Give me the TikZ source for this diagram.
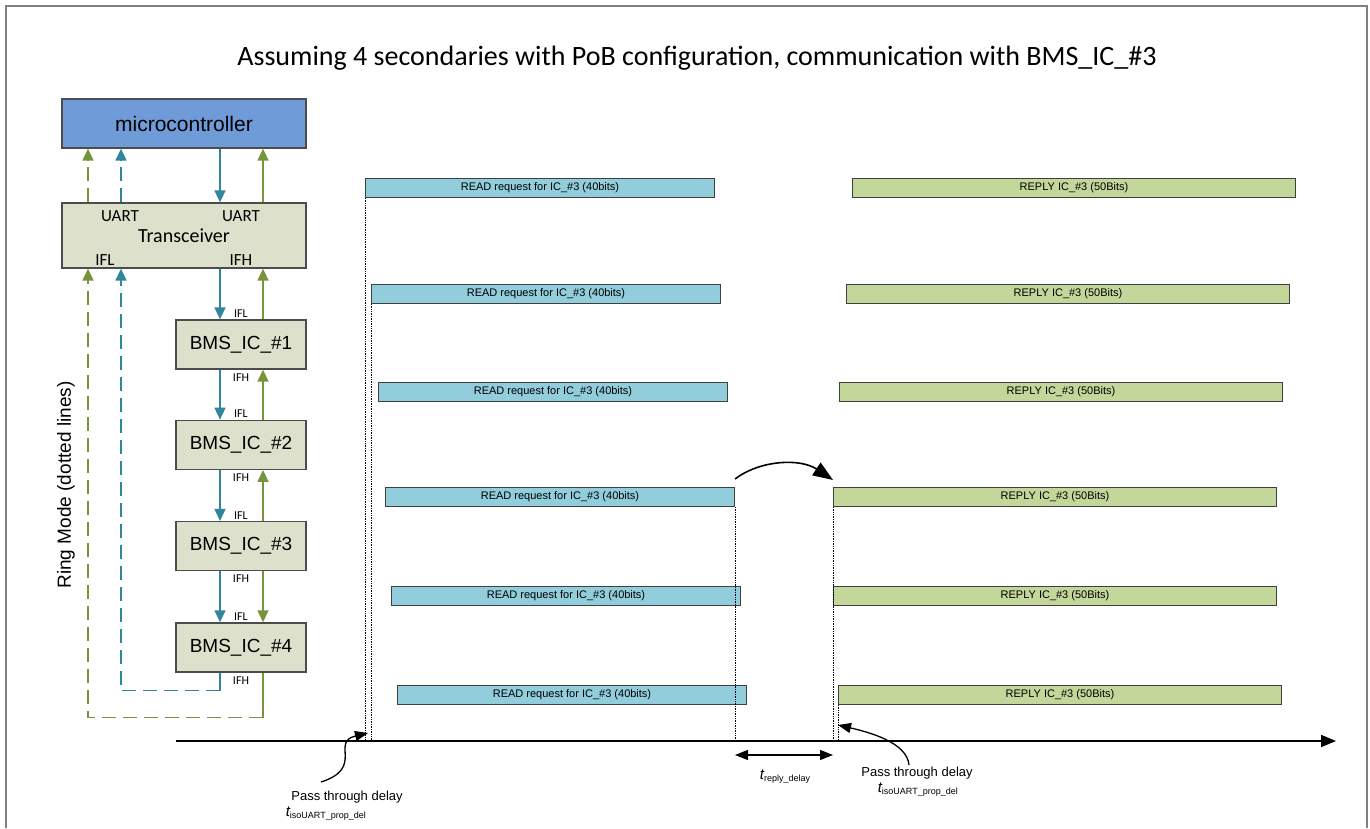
\documentclass[tikz,border=0pt]{standalone}
\usepackage{fontspec}
\setmainfont{Liberation Sans}
\newfontfamily\calfont{Carlito}
\usetikzlibrary{arrows.meta,positioning}

\definecolor{mcblue}{HTML}{6F9BD9}
\definecolor{boxgreen}{HTML}{DDE1CB}
\definecolor{readblue}{HTML}{92CDDC}
\definecolor{replygreen}{HTML}{C4D79B}
\definecolor{lineteal}{HTML}{31859C}
\definecolor{lineolive}{HTML}{77933C}
\definecolor{framegray}{HTML}{808080}

\begin{document}
\begin{tikzpicture}[x=1pt,y=-1pt,>={Triangle[length=12pt,width=11pt]},
                    node distance=51pt,line width=1.6pt]
  \tikzstyle{blockbox}=[draw=black!70,line width=1.3pt,fill=boxgreen,inner sep=0pt,
                        minimum width=130pt,minimum height=49pt,
                        font=\fontsize{19}{21}\selectfont]
  \tikzstyle{pinlabel}=[inner sep=0pt,font=\calfont\fontsize{12}{13}\selectfont]
  \tikzstyle{portlabel}=[inner sep=0pt,font=\calfont\fontsize{17}{19}\selectfont]
  \tikzstyle{readbar}=[draw=black!75,line width=1pt,fill=readblue,anchor=north west,
                       minimum width=349pt,minimum height=19pt,inner sep=0pt,
                       font=\fontsize{11}{12}\selectfont]
  \tikzstyle{replybar}=[readbar,fill=replygreen,minimum width=443pt]
  \tikzstyle{tealline}=[draw=lineteal,color=lineteal]
  \tikzstyle{oliveline}=[draw=lineolive,color=lineolive]
  \tikzstyle{ringdash}=[dash pattern=on 14pt off 7pt]
  \tikzstyle{timeline}=[black,densely dotted,line width=0.7pt]
  \tikzstyle{delaytext}=[inner sep=0pt,font=\fontsize{13}{15}\selectfont]

  \useasboundingbox (0,0) rectangle (1370,828);
  \draw[framegray,line width=2.5pt] (6,828) -- (6,6) -- (1367,6) -- (1367,828);

  \node[inner sep=0pt,font=\calfont\fontsize{28}{30}\selectfont] (title) at (697,58)
    {Assuming 4 secondaries with PoB configuration, communication with BMS\_IC\_\#3};

  % left block diagram
  \node[blockbox,fill=mcblue,minimum width=244pt,font=\fontsize{21}{23}\selectfont]
    (mcu) at (184,123.5) {microcontroller};
  \node[blockbox,minimum width=244pt,minimum height=65pt] (trx) at (184,235.5) {};
  \node[portlabel,font=\calfont\fontsize{20}{22}\selectfont] (trxname) at (184,236) {Transceiver};
  \node[portlabel] (uartL) at (120,216) {UART};
  \node[portlabel] (uartR) at (241,216) {UART};
  \node[portlabel] (iflT) at (105,260) {IFL};
  \node[portlabel] (ifhT) at (241,260) {IFH};

  \node[blockbox] (bms1) at (241,344.5) {BMS\_IC\_\#1};
  \node[blockbox,below=50pt of bms1] (bms2) {BMS\_IC\_\#2};
  \node[blockbox,below=51pt of bms2] (bms3) {BMS\_IC\_\#3};
  \node[blockbox,below=51pt of bms3] (bms4) {BMS\_IC\_\#4};
  \foreach \i in {1,...,4} {
    \node[pinlabel,above=1pt of bms\i] (ifl\i) {IFL};
    \node[pinlabel,below=3pt of bms\i] (ifh\i) {IFH};
  }

  \node[rotate=90,inner sep=0pt,font=\fontsize{19}{21}\selectfont] (ring) at (66,485)
    {Ring Mode (dotted lines)};

  % UART side
  \draw[tealline,->] ([xshift=36pt]mcu.south) -- ([xshift=36pt]trx.north);
  \draw[oliveline,->] ([xshift=79pt]trx.north) -- ([xshift=79pt]mcu.south);
  \draw[tealline,ringdash,->] ([xshift=-63pt]trx.north) -- ([xshift=-63pt]mcu.south);
  \draw[oliveline,ringdash,->] ([xshift=-96pt]trx.north) -- ([xshift=-96pt]mcu.south);

  % daisy chain
  \draw[tealline,->] ([xshift=36pt]trx.south) -- ([xshift=-21pt]bms1.north);
  \draw[oliveline,->] ([xshift=22pt]bms1.north) -- ([xshift=79pt]trx.south);
  \draw[tealline,->] ([xshift=-21pt]bms1.south) -- ([xshift=-21pt]bms2.north);
  \draw[oliveline,->] ([xshift=22pt]bms2.north) -- ([xshift=22pt]bms1.south);
  \draw[tealline,->] ([xshift=-21pt]bms2.south) -- ([xshift=-21pt]bms3.north);
  \draw[oliveline,->] ([xshift=22pt]bms3.north) -- ([xshift=22pt]bms2.south);
  \draw[tealline,->] ([xshift=-21pt]bms3.south) -- ([xshift=-21pt]bms4.north);
  \draw[oliveline,->] ([xshift=22pt]bms3.south) -- ([xshift=22pt]bms4.north);

  % ring return
  \draw[tealline] ([xshift=-21pt]bms4.south) -- ++(0,18) coordinate (ringT);
  \draw[tealline,ringdash,->] (ringT) -| ([xshift=-63pt]trx.south);
  \draw[oliveline] ([xshift=22pt]bms4.south) -- ++(0,45) coordinate (ringO);
  \draw[oliveline,ringdash,->] (ringO) -| ([xshift=-96pt]trx.south);

  % message bars
  \foreach \i/\x/\y in {1/365/178,2/371/284,3/378/382,4/385/487,5/391/586,6/397/685}
    \node[readbar] (read\i) at (\x,\y) {READ request for IC\_\#3 (40bits)};
  \foreach \i/\x/\y in {1/852/178,2/846/284,3/839/382,4/833/487,5/833/586,6/838/685}
    \node[replybar] (reply\i) at (\x,\y) {REPLY IC\_\#3 (50Bits)};

  % time axis
  \coordinate (t0) at (176,741);
  \coordinate (t1) at (1336,741);
  \draw[line width=1.8pt,-{Triangle[length=15pt,width=12pt]}] (t0) -- (t1);

  \draw[timeline] (read1.south west) -- (read1.south west |- t0);
  \draw[timeline] (read2.south west) -- (read2.south west |- t0);
  \draw[timeline] (read4.south east) -- (read4.south east |- t0);
  \draw[timeline] (reply4.south west) -- (reply4.south west |- t0);
  \draw[timeline] (reply6.south west) -- (reply6.south west |- t0);

  % delays
  \draw[line width=1.3pt,{Triangle[length=13pt,width=10pt]}-{Triangle[length=13pt,width=10pt]}]
    ([yshift=-14pt]read4.south east |- t0) -- ([yshift=-14pt]reply4.south west |- t0);
  \node[delaytext] (treply) at (785,777)
    {\fontsize{15}{16}\selectfont\itshape t\raisebox{-2pt}{\upshape\fontsize{9}{10}\selectfont reply\_delay}};

  \node[delaytext] (passL) at (347,797) {Pass through delay};
  \node[delaytext,anchor=north west] (tisoL) at (285,806)
    {\fontsize{15}{16}\selectfont\itshape t\raisebox{-2pt}{\upshape\fontsize{9}{10}\selectfont isoUART\_prop\_del}};
  \node[delaytext] (passR) at (917,773) {Pass through delay};
  \node[delaytext,anchor=north west] (tisoR) at (877,782)
    {\fontsize{15}{16}\selectfont\itshape t\raisebox{-2pt}{\upshape\fontsize{9}{10}\selectfont isoUART\_prop\_del}};

  \coordinate (curveL) at (321,782);
  \coordinate (tipL) at (368,733);
  \coordinate (curveR) at (909,765);
  \coordinate (tipR) at (838,725);
  \draw[line width=1.3pt,-{Triangle[length=13pt,width=10pt]}]
    (curveL) .. controls (365,768) and (330,742) .. (tipL);
  \draw[line width=1.3pt,-{Triangle[length=13pt,width=10pt]}]
    (curveR) .. controls (907,742) and (868,732) .. (tipR);

  \draw[line width=1.6pt,-{Triangle[length=20pt,width=15pt]}]
    ([yshift=8pt]read4.north east) .. controls (760,460) and (800,458) .. ([yshift=7pt]reply4.north west);
\end{tikzpicture}
\end{document}
